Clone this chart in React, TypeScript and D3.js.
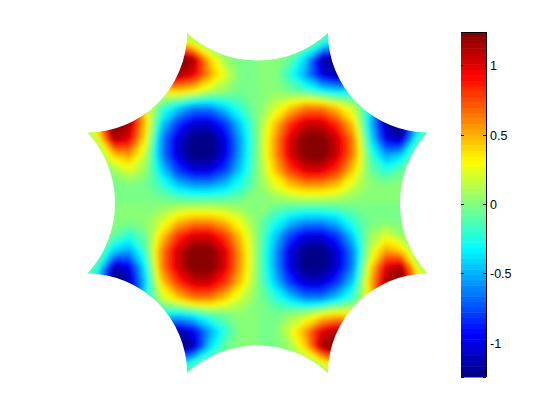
import React from "react";
import * as d3 from "d3";

// membrane field, 23 x 23 samples, top row first, left to right
const fieldRows: number[][] = [
  [0,.10,.20,.20,.20,.20,.05,0,0,0,0,0,0,0,0,0,-.05,-.20,-.20,-.20,-.20,-.10,0],
  [.10,.30,.60,.60,.60,.60,.50,.20,0,0,-.02,0,.02,0,0,-.20,-.50,-.60,-.60,-.60,-.60,-.30,-.10],
  [.20,.60,1.10,1.10,1.25,1.30,1.30,1.15,.42,.06,-.03,0,.03,-.06,-.42,-1.15,-1.30,-1.30,-1.25,-1.10,-1.10,-.60,-.20],
  [.20,.60,1.10,1.10,1.10,1.22,1.15,1.00,.55,.22,-.03,0,.03,-.22,-.55,-1.00,-1.15,-1.22,-1.10,-1.10,-1.10,-.60,-.20],
  [.20,.60,1.22,1.10,.30,.30,.42,.32,.15,.05,-.04,0,.04,-.05,-.15,-.32,-.42,-.30,-.30,-1.10,-1.22,-.60,-.20],
  [.20,.60,1.30,1.22,.30,-.15,-.40,-.60,-.60,-.40,-.17,0,.17,.40,.60,.60,.40,.15,-.30,-1.22,-1.30,-.60,-.20],
  [.05,.50,1.30,1.15,.42,-.40,-.80,-1.04,-1.04,-.80,-.40,0,.40,.80,1.04,1.04,.80,.40,-.42,-1.15,-1.30,-.50,-.05],
  [0,.20,1.15,1.00,.32,-.60,-1.04,-1.26,-1.28,-1.00,-.50,0,.50,1.00,1.28,1.26,1.04,.60,-.32,-1.00,-1.15,-.20,0],
  [0,0,.42,.55,.15,-.60,-1.04,-1.28,-1.26,-1.00,-.50,0,.50,1.00,1.26,1.28,1.04,.60,-.15,-.55,-.42,0,0],
  [0,0,.06,.22,.05,-.40,-.80,-1.00,-1.00,-.78,-.40,0,.40,.78,1.00,1.00,.80,.40,-.05,-.22,-.06,0,0],
  [0,-.02,-.03,-.03,-.04,-.17,-.40,-.50,-.50,-.40,-.21,0,.21,.40,.50,.50,.40,.17,.04,.03,.03,.02,0],
  [0,0,0,0,0,0,0,0,0,0,0,0,0,0,0,0,0,0,0,0,0,0,0],
  [0,.02,.03,.03,.04,.17,.40,.50,.50,.40,.21,0,-.21,-.40,-.50,-.50,-.40,-.17,-.04,-.03,-.03,-.02,0],
  [0,0,-.06,-.22,-.05,.40,.80,1.00,1.00,.78,.40,0,-.40,-.78,-1.00,-1.00,-.80,-.40,.05,.22,.06,0,0],
  [0,0,-.42,-.55,-.15,.60,1.04,1.28,1.26,1.00,.50,0,-.50,-1.00,-1.26,-1.28,-1.04,-.60,.15,.55,.42,0,0],
  [0,-.20,-1.15,-1.00,-.32,.60,1.04,1.26,1.28,1.00,.50,0,-.50,-1.00,-1.28,-1.26,-1.04,-.60,.32,1.00,1.15,.20,0],
  [-.05,-.50,-1.30,-1.15,-.42,.40,.80,1.04,1.04,.80,.40,0,-.40,-.80,-1.04,-1.04,-.80,-.40,.42,1.15,1.30,.50,.05],
  [-.20,-.60,-1.30,-1.22,-.30,.15,.40,.60,.60,.40,.17,0,-.17,-.40,-.60,-.60,-.40,-.15,.30,1.22,1.30,.60,.20],
  [-.20,-.60,-1.22,-1.10,-.30,-.30,-.42,-.32,-.15,-.05,.04,0,-.04,.05,.15,.32,.42,.30,.30,1.10,1.22,.60,.20],
  [-.20,-.60,-1.10,-1.10,-1.10,-1.22,-1.15,-1.00,-.55,-.22,.03,0,-.03,.22,.55,1.00,1.15,1.22,1.10,1.10,1.10,.60,.20],
  [-.20,-.60,-1.10,-1.10,-1.25,-1.30,-1.30,-1.15,-.42,-.06,.03,0,-.03,.06,.42,1.15,1.30,1.30,1.25,1.10,1.10,.60,.20],
  [-.10,-.30,-.60,-.60,-.60,-.60,-.50,-.20,0,0,.02,0,-.02,0,0,.20,.50,.60,.60,.60,.60,.30,.10],
  [0,-.10,-.20,-.20,-.20,-.20,-.05,0,0,0,0,0,0,0,0,0,.05,.20,.20,.20,.20,.10,0],
];

// octagon corners, each pair joined by a concave arc
const cornersX = [-0.414, 0.414, 1, 1, 0.414, -0.414, -1, -1];
const cornersY = [1, 1, 0.414, -0.414, -1, -1, -0.414, 0.414];
const arcRadii = [0.61, 0.59, 0.61, 0.59, 0.61, 0.59, 0.61, 0.59];

const colorTicks = [-1, -0.5, 0, 0.5, 1];
const colorLimit = 1.245;
const gridExtent = 176 / 170; // grid nodes sit just past the shape
const levelCount = 64;

const xScale = d3.scaleLinear().domain([-1, 1]).range([87.5, 427.5]);
const yScale = d3.scaleLinear().domain([-1, 1]).range([373, 33]);
const colScale = d3.scaleLinear().domain([0.5, 22.5]).range([xScale(-gridExtent), xScale(gridExtent)]);
const rowScale = d3.scaleLinear().domain([0.5, 22.5]).range([yScale(gridExtent), yScale(-gridExtent)]);
const barScale = d3.scaleLinear().domain([-colorLimit, colorLimit]).range([377, 32]);

const jet = d3
  .scaleLinear<string>()
  .domain([0, 0.125, 0.375, 0.625, 0.875, 1])
  .range(["#000080", "#0000ff", "#00ffff", "#ffff00", "#ff0000", "#800000"])
  .interpolate(d3.interpolateRgb);

const levels = d3.range(levelCount);
const levelColor = (i: number) => jet((i + 0.5) / levelCount);
const thresholds = levels.map((i) => -colorLimit + (i * 2 * colorLimit) / levelCount);

const bands = d3
  .contours()
  .size([23, 23])
  .smooth(true)
  .thresholds(thresholds)(fieldRows.flat());

const bandPath = d3.geoPath(
  d3.geoTransform({
    point(x, y) {
      this.stream.point(colScale(x), rowScale(y));
    },
  })
);

// outline of the shape, used as the clip
const outline = () => {
  let d = `M${xScale(cornersX[0])},${yScale(cornersY[0])}`;
  cornersX.forEach((_, i) => {
    const n = (i + 1) % cornersX.length;
    const r = arcRadii[i] * (xScale(1) - xScale(0));
    d += `A${r},${r} 0 0 0 ${xScale(cornersX[n])},${yScale(cornersY[n])}`;
  });
  return d + "Z";
};

const barLeft = 461;
const barRight = 486;
const tickLen = 3;

export default function App() {
  return (
    <svg
      width={560}
      height={420}
      style={{ position: "absolute", left: 0, top: 0, background: "white" }}
    >
      <defs>
        <clipPath id="shape">
          <path d={outline()} shapeRendering="crispEdges" />
        </clipPath>
        <filter id="soft" x="-10%" y="-10%" width="120%" height="120%">
          <feGaussianBlur stdDeviation={2.5} />
        </filter>
      </defs>

      <g clipPath="url(#shape)">
        <g filter="url(#soft)">
          <rect
            x={colScale(0)}
            y={rowScale(0)}
            width={colScale(23) - colScale(0)}
            height={rowScale(23) - rowScale(0)}
            fill={levelColor(0)}
          />
          {bands.map((b, i) => (
            <path key={i} d={bandPath(b) ?? ""} fill={levelColor(i)} stroke={levelColor(i)} strokeWidth={0.5} />
          ))}
        </g>
      </g>

      {/* colorbar */}
      {levels.map((i) => {
        const y0 = barScale(thresholds[i]);
        const y1 = barScale(thresholds[i] + (2 * colorLimit) / levelCount);
        return (
          <rect
            key={i}
            x={barLeft}
            y={y1}
            width={barRight - barLeft}
            height={y0 - y1 + 0.5}
            fill={levelColor(i)}
          />
        );
      })}
      <g stroke="black" strokeWidth={1} shapeRendering="crispEdges">
        <line x1={barLeft} x2={barRight} y1={32} y2={32} />
        <line x1={barRight} x2={barRight} y1={32} y2={377} />
        <line x1={barLeft} x2={barLeft + tickLen} y1={377} y2={377} />
        <line x1={barRight - tickLen} x2={barRight} y1={377} y2={377} />
        {colorTicks.map((t) => (
          <g key={t}>
            <line x1={barLeft} x2={barLeft + tickLen} y1={barScale(t)} y2={barScale(t)} />
            <line x1={barRight - tickLen} x2={barRight} y1={barScale(t)} y2={barScale(t)} />
          </g>
        ))}
      </g>
      {colorTicks.map((t) => (
        <text
          key={t}
          x={490}
          y={barScale(t) + 4.5}
          fontFamily="Liberation Sans, sans-serif"
          fontSize={12.5}
          fill="black"
        >
          {String(t)}
        </text>
      ))}
    </svg>
  );
}
